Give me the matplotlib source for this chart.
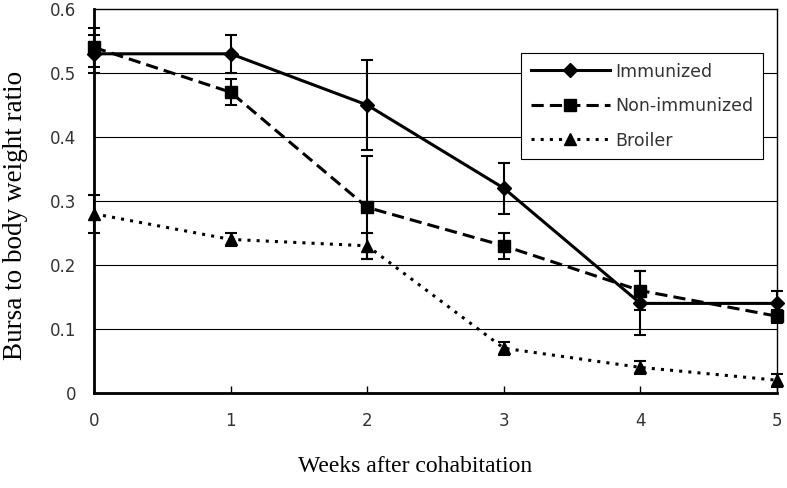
import matplotlib
matplotlib.use('Agg')
import numpy as np
import matplotlib.pyplot as plt

# data
weeks = [0, 1, 2, 3, 4, 5]
immunized = [0.53, 0.53, 0.45, 0.32, 0.14, 0.14]
immunized_err = [0.03, 0.03, 0.07, 0.04, 0.05, 0.02]
non_immunized = [0.54, 0.47, 0.29, 0.23, 0.16, 0.12]
non_immunized_err = [0.03, 0.02, 0.08, 0.02, 0.03, 0.01]
broiler = [0.28, 0.24, 0.23, 0.07, 0.04, 0.02]
broiler_err = [0.03, 0.01, 0.02, 0.01, 0.01, 0.01]

y_ticks = [0, 0.1, 0.2, 0.3, 0.4, 0.5, 0.6]
y_ticklabels = ['0', '0.1', '0.2', '0.3', '0.4', '0.5', '0.6']

fig = plt.figure(figsize=(7.87, 4.88), dpi=100)
ax = fig.add_axes([94/787., 1-393/488., 683/787., 384/488.])

tick_font = 'DejaVu Sans'
label_font = 'Liberation Serif'

series = [
    (immunized, immunized_err, 'Immunized', 'D', 7, '-'),
    (non_immunized, non_immunized_err, 'Non-immunized', 's', 9, (0, (4, 2))),
    (broiler, broiler_err, 'Broiler', '^', 9, (0, (1, 2))),
]
handles = []
for vals, errs, name, mk, ms, ls in series:
    cont = ax.errorbar(weeks, vals, yerr=errs, color='black', marker=mk, markersize=ms,
                       linestyle=ls, linewidth=2.2, elinewidth=1.5, capsize=4,
                       capthick=1.5, clip_on=False, label=name, zorder=3)
    for art in cont.lines[1] + cont.lines[2]:
        art.set_clip_on(False)
    handles.append(cont.lines[0])

ax.set_xlim(0, 5)
ax.set_ylim(0, 0.6)
ax.set_yticks(y_ticks)
ax.set_yticklabels(y_ticklabels, fontfamily=tick_font, fontsize=12, color='#333333')
ax.set_xticks(weeks)
ax.set_xticklabels([str(w) for w in weeks], fontfamily=tick_font, fontsize=12, color='#333333')
ax.tick_params(axis='y', length=0, pad=13)
ax.tick_params(axis='x', direction='in', length=5, width=1, pad=14)

for y in y_ticks[1:-1]:
    ax.axhline(y, color='black', linewidth=0.8, zorder=1)

ax.spines['left'].set_linewidth(2)
ax.spines['bottom'].set_linewidth(2)
ax.spines['top'].set_linewidth(1)
ax.spines['right'].set_linewidth(1)

fig.text(415/787., 1-467/488., 'Weeks after cohabitation', ha='center', va='center',
         fontfamily=label_font, fontsize=17)
fig.text(16/787., 1-215/488., 'Bursa to body weight ratio', ha='center', va='center',
         rotation=90, fontfamily=label_font, fontsize=19.5)

leg = ax.legend(handles=handles, labels=[s[2] for s in series],
                loc='upper left', bbox_to_anchor=(521/787., 1-53/488.),
                bbox_transform=fig.transFigure, frameon=True, fancybox=False,
                framealpha=1, edgecolor='black', handlelength=4.6,
                labelspacing=0.95, borderpad=0.55, handletextpad=0.3,
                borderaxespad=0, prop={'family': tick_font, 'size': 12.5})
leg.get_frame().set_linewidth(0.8)
for t in leg.get_texts():
    t.set_color('#333333')

fig.savefig('out.png', dpi=100)
